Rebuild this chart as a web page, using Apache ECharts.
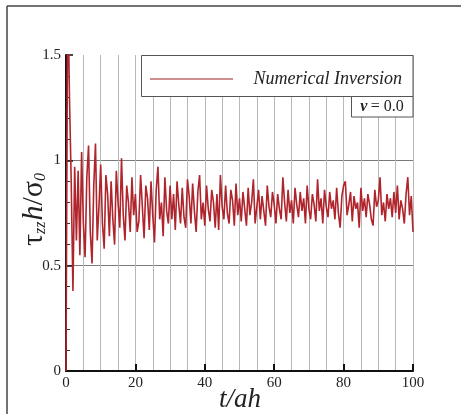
<!DOCTYPE html>
<html>
<head>
<meta charset="utf-8">
<script src="https://cdn.jsdelivr.net/npm/echarts@6/dist/echarts.min.js"></script>
<style>html,body{margin:0;padding:0;background:#fff}#c{width:461px;height:414px}</style>
</head>
<body>
<div id="c"></div>
<script>
// sampling step of the time axis t/ah
const tStep = 0.5;
// tau_zz h / sigma_0 values, one per step starting at t = 0
const stressValues = [
  0.00, 1.85, 1.30, 0.90, 0.38,
  0.97, 0.62, 0.95, 0.55, 1.04, 0.70, 0.54, 0.92, 1.07, 0.66, 0.51, 0.88, 1.08, 0.62, 0.78, 0.98,
  0.70, 0.58, 0.93, 0.84, 0.64, 0.90, 0.72, 0.60, 0.95, 0.80, 0.68, 1.01, 0.74, 0.62, 0.88, 0.80, 0.66, 0.92, 0.74, 0.84,
  0.66, 0.71, 0.93, 0.78, 0.63, 0.88, 0.82, 0.67, 0.90, 0.74, 0.61, 0.86, 0.97, 0.72, 0.80, 0.64, 0.92, 0.76, 0.70, 0.88,
  0.72, 0.84, 0.67, 0.90, 0.79, 0.70, 0.87, 0.73, 0.68, 0.91, 0.83, 0.70, 0.89, 0.76, 0.66, 0.85, 0.93, 0.72, 0.80, 0.69,
  0.88, 0.77, 0.71, 0.86, 0.80, 0.68, 0.84, 0.67, 0.93, 0.78, 0.72, 0.88, 0.75, 0.70, 0.86, 0.81, 0.69, 0.89, 0.74, 0.82,
  0.71, 0.85, 0.77, 0.69, 0.87, 0.74, 0.80, 0.91, 0.70, 0.78, 0.86, 0.72, 0.83, 0.76, 0.69, 0.88, 0.78, 0.73, 0.85, 0.79,
  0.70, 0.84, 0.77, 0.72, 0.92, 0.80, 0.71, 0.86, 0.75, 0.81, 0.70, 0.87, 0.79, 0.73, 0.85, 0.76, 0.82, 0.70, 0.88, 0.77,
  0.72, 0.84, 0.79, 0.71, 0.91, 0.76, 0.82, 0.70, 0.86, 0.78, 0.73, 0.85, 0.77, 0.81, 0.72, 0.87, 0.75, 0.68, 0.83, 0.88,
  0.90, 0.74, 0.79, 0.85, 0.71, 0.83, 0.77, 0.80, 0.68, 0.87, 0.76, 0.82, 0.73, 0.84, 0.79, 0.72, 0.69, 0.86, 0.78, 0.81,
  0.92, 0.74, 0.80, 0.71, 0.84, 0.77, 0.82, 0.73, 0.85, 0.75, 0.88, 0.72, 0.81, 0.77, 0.70, 0.84, 0.92, 0.74, 0.83, 0.66
];
const xTickLabels = ['0', '20', '40', '60', '80', '100'];
const yTickLabels = ['0', '0.5', '1', '1.5'];
const legendLabel = 'Numerical Inversion';

const serif = '"Liberation Serif", "DejaVu Serif", serif';
const seriesData = stressValues.map((v, i) => [i * tStep, v]);

const chart = echarts.init(document.getElementById('c'), null, {renderer: 'canvas'});
chart.setOption({
  backgroundColor: '#fff',
  animation: false,
  grid: {left: 66, right: 48, top: 55, bottom: 43, containLabel: false},
  xAxis: [
    {
      type: 'value', min: 0, max: 100, interval: 20, position: 'bottom',
      axisLine: {show: true, onZero: false, lineStyle: {color: '#111', width: 2}},
      axisTick: {show: true, inside: true, length: 7, lineStyle: {color: '#111', width: 2}},
      axisLabel: {color: '#222', fontFamily: serif, fontSize: 15, margin: 5,
        formatter: v => xTickLabels[Math.round(v / 20)]},
      splitLine: {show: false}
    },
    {
      type: 'value', min: 0, max: 100, interval: 5, position: 'bottom',
      axisLine: {show: false}, axisTick: {show: false}, axisLabel: {show: false},
      splitLine: {show: true, lineStyle: {color: '#b8b8b8', width: 1}}
    }
  ],
  yAxis: {
    type: 'value', min: 0, max: 1.5, interval: 0.5,
    axisLine: {show: true, onZero: false, lineStyle: {color: '#111', width: 2}},
    axisTick: {show: true, inside: true, length: 7, lineStyle: {color: '#111', width: 1.5}},
    minorTick: {show: true, splitNumber: 5, length: 4, lineStyle: {color: '#333', width: 1}},
    axisLabel: {color: '#222', fontFamily: serif, fontSize: 15, margin: 5,
      formatter: v => yTickLabels[Math.round(v / 0.5)]},
    splitLine: {show: true, lineStyle: {color: ['transparent', '#7a7a7a', '#7a7a7a', 'transparent'], width: 1}}
  },
  series: [{
    type: 'line', name: legendLabel, data: seriesData, xAxisIndex: 0,
    showSymbol: false, clip: true,
    lineStyle: {color: '#b0242c', width: 1.6},
    z: 3
  }],
  graphic: [
    {type: 'line', shape: {x1: 7, y1: 6, x2: 7, y2: 414}, style: {stroke: '#444', lineWidth: 1.5}},
    {type: 'line', shape: {x1: 7, y1: 6, x2: 461, y2: 6}, style: {stroke: '#444', lineWidth: 1.5}},
    {type: 'rect', z: 10, shape: {x: 141.5, y: 55.5, width: 271.5, height: 41}, style: {fill: '#fff', stroke: '#555', lineWidth: 1}},
    {type: 'line', z: 11, shape: {x1: 150, y1: 79, x2: 233, y2: 79}, style: {stroke: '#c06a6a', lineWidth: 1.5}},
    {type: 'text', z: 11, style: {x: 402, y: 79, text: legendLabel, align: 'right', verticalAlign: 'middle',
      font: 'italic 18px ' + serif, fill: '#222'}},
    {type: 'rect', z: 10, shape: {x: 351.5, y: 96.5, width: 61.5, height: 20.5}, style: {fill: '#fff', stroke: '#555', lineWidth: 1}},
    {type: 'text', z: 11, style: {x: 382, y: 107, align: 'center', verticalAlign: 'middle',
      text: '{v|ν} {r|= 0.0}',
      rich: {v: {font: 'italic bold 16px ' + serif, fill: '#222'}, r: {font: '16px ' + serif, fill: '#222'}}}},
    {type: 'text', z: 11, rotation: Math.PI / 2, x: 34, y: 209,
      style: {x: 0, y: 0, align: 'center', verticalAlign: 'middle',
        text: '{a|τ}{s|zz}{a|}{h|h}{a|/σ}{s|0}',
        rich: {
          a: {font: '30px ' + serif, fill: '#222'},
          h: {font: 'italic 30px ' + serif, fill: '#222'},
          s: {font: 'italic 16px ' + serif, fill: '#222', padding: [13, 1, 0, 0]}
        }}},
    {type: 'text', z: 11, style: {x: 240, y: 400, align: 'center', verticalAlign: 'middle',
      text: 't/ah', font: 'italic 27px ' + serif, fill: '#222'}}
  ]
});
</script>
</body>
</html>
